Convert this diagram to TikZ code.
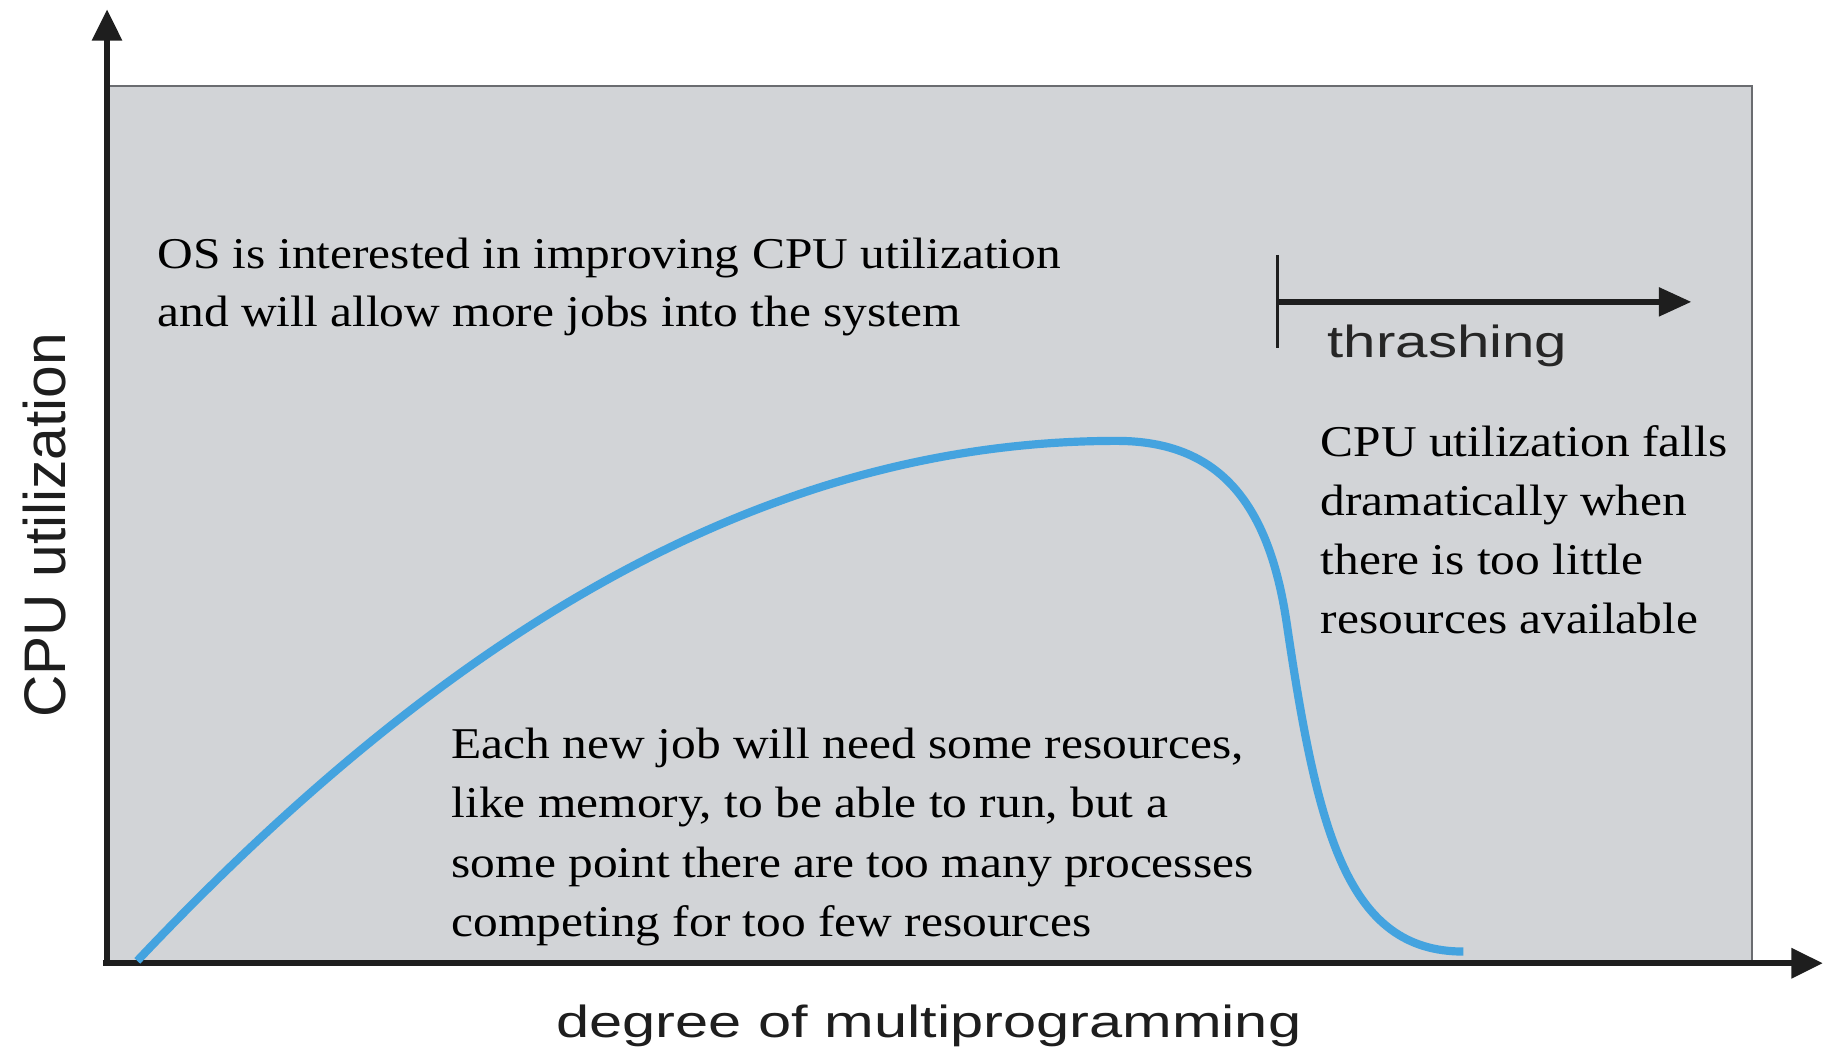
\documentclass[tikz,border=0pt]{standalone}
\usepackage{fontspec}
\setmainfont{Liberation Serif}[FakeStretch=1.125]
\newfontfamily\ylabelfont{Liberation Sans}
\newfontfamily\xlabelfont{Liberation Sans}[FakeStretch=1.325]
\newfontfamily\bandfont{Liberation Sans}[FakeStretch=1.295]
\usetikzlibrary{arrows.meta}

\definecolor{panel}{HTML}{D2D4D7}
\definecolor{paneledge}{HTML}{6A6C70}
\definecolor{curveblue}{HTML}{44A3DF}
\definecolor{inkdark}{HTML}{1E1E1E}

\begin{document}
\begin{tikzpicture}[x=0.02cm, y=-0.02cm,
  note/.style={font=\fontsize{21.5}{29}\selectfont, align=left, inner sep=0pt, anchor=base west, text=black},
  axisline/.style={line width=3pt, draw=inkdark},
  bigtip/.style={-{Triangle[length=0.54cm, width=0.5cm]}},
  bandtip/.style={-{Triangle[length=0.56cm, width=0.48cm]}},
]
\useasboundingbox (0,0) rectangle (1568,907);

% shaded plotting area
\fill[panel] (92,74) rectangle (1506,828);
\draw[paneledge, line width=1pt] (92,74) -- (1506,74) -- (1506,828);

% axes
\coordinate (origin) at (92,828);
\coordinate (ytip) at (92,8);
\coordinate (xtip) at (1567,828);
\draw[axisline, bigtip] (origin) -- (ytip);
\draw[axisline, bigtip] ([xshift=-2pt]origin) -- (xtip);

% axis labels
\node[rotate=90, anchor=base, inner sep=0pt, text=inkdark,
      font=\ylabelfont\fontsize{28.7}{30}\selectfont] (ylab) at (56,451.5) {CPU utilization};
\node[anchor=base, inner sep=0pt, text=inkdark,
      font=\xlabelfont\fontsize{22}{24}\selectfont] (xlab) at (798.5,892) {degree of multiprogramming};

% utilization curve: slow rise, peak, then a sharp fall
\coordinate (c0) at (118,826);
\coordinate (peak) at (960,379);
\coordinate (knee) at (1106,535);
\coordinate (cend) at (1258,818);
\draw[curveblue, line width=4pt, line cap=butt]
  (c0) .. controls (388,540) and (660,379) .. (peak)
       .. controls (1050,379) and (1091,435) .. (knee)
       .. controls (1132.5,715) and (1158,818) .. (cend);

% thrashing region marker
\coordinate (thtop) at (1098,219);
\coordinate (thbot) at (1098,299);
\coordinate (thA) at (1098,259.5);
\coordinate (thB) at (1454,259.5);
\draw[inkdark, line width=1.3pt] (thtop) -- (thbot);
\draw[inkdark, line width=2.8pt, bandtip] (thA) -- (thB);
\node[anchor=base west, inner sep=0pt, text=black!85,
      font=\bandfont\fontsize{22}{24}\selectfont] (thr) at (1141,307) {thrashing};

% annotations (anchored at the baseline of their last line)
\node[note, font=\fontsize{21.5}{28.5}\selectfont] (os) at (135,281)
  {OS is interested in improving CPU utilization\\and will allow more jobs into the system};
\node[note] (falls) at (1135,545)
  {CPU utilization falls\\dramatically when\\there is too little\\resources available};
\node[note] (jobs) at (388,805)
  {Each new job will need some resources,\\like memory, to be able to run, but a\\some point there are too many processes\\competing for too few resources};
\end{tikzpicture}
\end{document}
